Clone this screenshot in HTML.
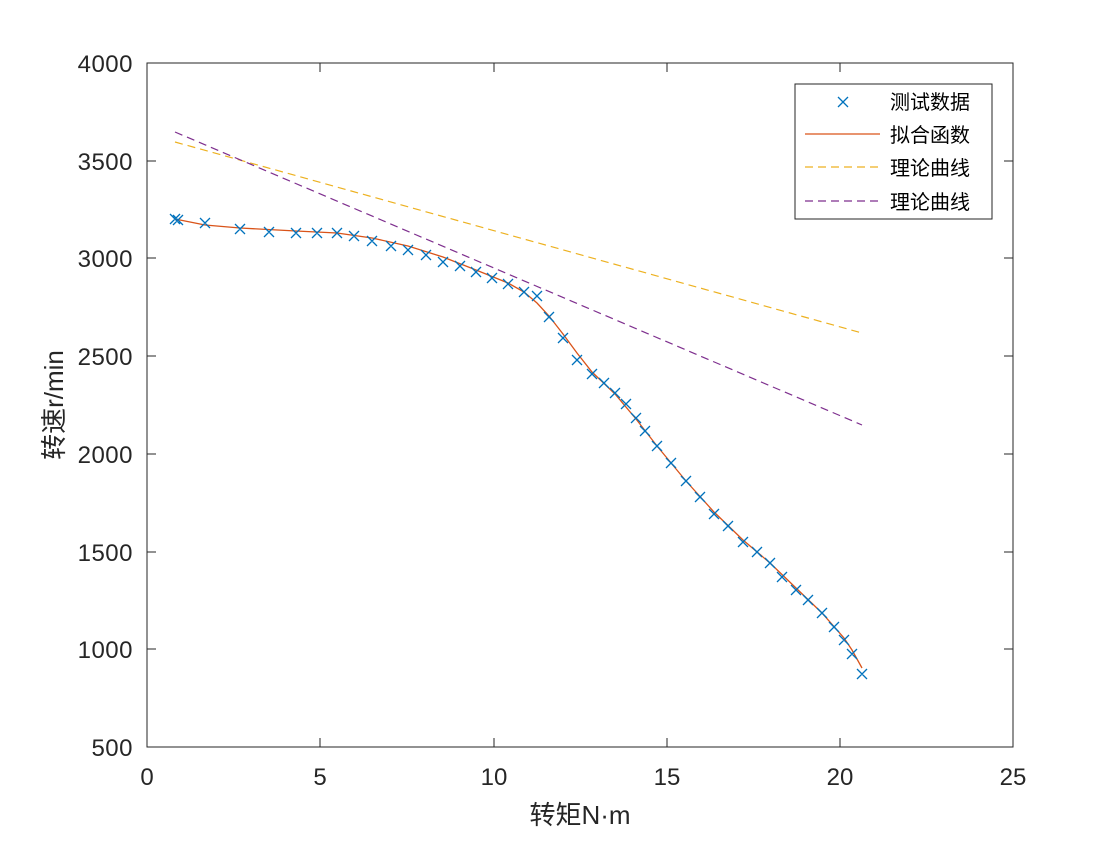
<!DOCTYPE html>
<html><head><meta charset="utf-8"><style>body{margin:0;background:#fff}</style></head><body>
<svg width="1120" height="840" xmlns="http://www.w3.org/2000/svg" font-family="Liberation Sans, Noto Sans CJK SC, sans-serif">
<rect width="1120" height="840" fill="#fff"/>
<rect x="147" y="63" width="866" height="684" fill="#fff" stroke="#262626" stroke-width="1"/>
<g stroke="#262626" stroke-width="1">
<line x1="147" y1="747" x2="147" y2="738"/><line x1="320" y1="747" x2="320" y2="738"/><line x1="494" y1="747" x2="494" y2="738"/><line x1="667" y1="747" x2="667" y2="738"/><line x1="840" y1="747" x2="840" y2="738"/>
<line x1="147" y1="63" x2="147" y2="72"/><line x1="320" y1="63" x2="320" y2="72"/><line x1="494" y1="63" x2="494" y2="72"/><line x1="667" y1="63" x2="667" y2="72"/><line x1="840" y1="63" x2="840" y2="72"/>
<line x1="147" y1="649" x2="156" y2="649"/><line x1="147" y1="552" x2="156" y2="552"/><line x1="147" y1="454" x2="156" y2="454"/><line x1="147" y1="356" x2="156" y2="356"/><line x1="147" y1="258" x2="156" y2="258"/><line x1="147" y1="161" x2="156" y2="161"/>
<line x1="1013" y1="649" x2="1004" y2="649"/><line x1="1013" y1="552" x2="1004" y2="552"/><line x1="1013" y1="454" x2="1004" y2="454"/><line x1="1013" y1="356" x2="1004" y2="356"/><line x1="1013" y1="258" x2="1004" y2="258"/><line x1="1013" y1="161" x2="1004" y2="161"/>
</g>
<g font-size="24" fill="#262626" text-anchor="middle">
<text x="147" y="785">0</text><text x="320" y="785">5</text><text x="494" y="785">10</text><text x="667" y="785">15</text><text x="840" y="785">20</text><text x="1013" y="785">25</text>
</g>
<g font-size="24" fill="#262626" text-anchor="end" letter-spacing="0.5">
<text x="133" y="756">500</text><text x="133" y="658">1000</text><text x="133" y="561">1500</text><text x="133" y="463">2000</text><text x="133" y="365">2500</text><text x="133" y="267">3000</text><text x="133" y="170">3500</text><text x="133" y="72">4000</text>
</g>
<text x="580" y="824" font-size="26" fill="#262626" text-anchor="middle">转矩N·m</text>
<text transform="translate(63,405) rotate(-90)" font-size="26" fill="#262626" text-anchor="middle">转速r/min</text>
<line x1="175" y1="142" x2="862" y2="333" stroke="#EDB120" stroke-width="1.2" stroke-dasharray="8,5"/>
<line x1="175" y1="132" x2="862" y2="425" stroke="#7E2F8E" stroke-width="1.2" stroke-dasharray="8,5"/>
<polyline fill="none" stroke="#D95319" stroke-width="1.3" points="175,219 205,225 240,228 296,231 337,233 372,238 408,246 443,257 476,270 508,283 524,292 537,303 549,316 563,334 577,353 592,372 615,394 636,419 657,446 686,481 714,512 743,540 770,563 796,588 822,613 844,638 852,650 862,668"/>
<g stroke="#0072BD" stroke-width="1.3" fill="none">
<path d="M170,214l10,10m0,-10l-10,10 M173,215l10,10m0,-10l-10,10 M200,218l10,10m0,-10l-10,10 M235,224l10,10m0,-10l-10,10 M264,227l10,10m0,-10l-10,10 M291,228l10,10m0,-10l-10,10 M312,228l10,10m0,-10l-10,10 M332,228l10,10m0,-10l-10,10 M349,231l10,10m0,-10l-10,10 M367,236l10,10m0,-10l-10,10 M386,241l10,10m0,-10l-10,10 M403,245l10,10m0,-10l-10,10 M421,250l10,10m0,-10l-10,10 M438,257l10,10m0,-10l-10,10 M455,261l10,10m0,-10l-10,10 M471,267l10,10m0,-10l-10,10 M487,273l10,10m0,-10l-10,10 M503,279l10,10m0,-10l-10,10 M519,287l10,10m0,-10l-10,10 M532,291l10,10m0,-10l-10,10 M544,312l10,10m0,-10l-10,10 M558,333l10,10m0,-10l-10,10 M572,355l10,10m0,-10l-10,10 M587,369l10,10m0,-10l-10,10 M599,378l10,10m0,-10l-10,10 M610,388l10,10m0,-10l-10,10 M621,399l10,10m0,-10l-10,10 M631,413l10,10m0,-10l-10,10 M640,426l10,10m0,-10l-10,10 M652,441l10,10m0,-10l-10,10 M666,458l10,10m0,-10l-10,10 M681,476l10,10m0,-10l-10,10 M695,492l10,10m0,-10l-10,10 M709,509l10,10m0,-10l-10,10 M723,521l10,10m0,-10l-10,10 M738,537l10,10m0,-10l-10,10 M752,547l10,10m0,-10l-10,10 M765,558l10,10m0,-10l-10,10 M777,572l10,10m0,-10l-10,10 M791,585l10,10m0,-10l-10,10 M803,595l10,10m0,-10l-10,10 M817,608l10,10m0,-10l-10,10 M829,622l10,10m0,-10l-10,10 M839,635l10,10m0,-10l-10,10 M847,649l10,10m0,-10l-10,10 M857,669l10,10m0,-10l-10,10"/>
</g>
<rect x="795" y="84" width="197" height="135" fill="#fff" stroke="#262626" stroke-width="1"/>
<path d="M838,97l10,10m0,-10l-10,10" stroke="#0072BD" stroke-width="1.3"/>
<line x1="805" y1="134" x2="880" y2="134" stroke="#D95319" stroke-width="1.3"/>
<line x1="805" y1="167" x2="880" y2="167" stroke="#EDB120" stroke-width="1.2" stroke-dasharray="8,5"/>
<line x1="805" y1="201" x2="880" y2="201" stroke="#7E2F8E" stroke-width="1.2" stroke-dasharray="8,5"/>
<g font-size="20" fill="#000">
<text x="890" y="109">测试数据</text><text x="890" y="142">拟合函数</text><text x="890" y="175">理论曲线</text><text x="890" y="209">理论曲线</text>
</g>
</svg>
</body></html>
